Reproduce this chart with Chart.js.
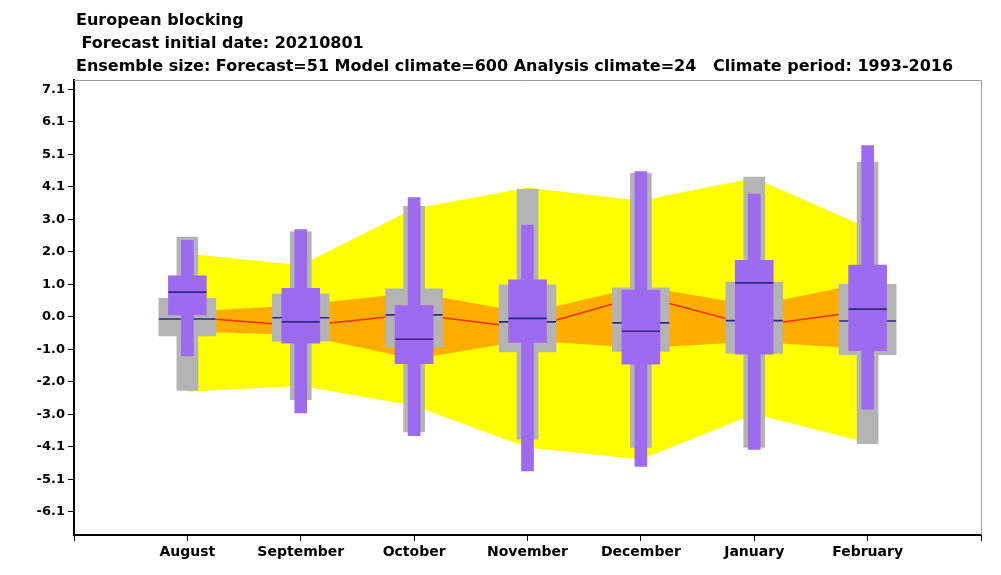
<!DOCTYPE html>
<html>
<head>
<meta charset="utf-8">
<title>European blocking</title>
<script src="https://cdn.jsdelivr.net/npm/chart.js@4.4.0/dist/chart.umd.min.js"></script>
<style>
  html, body { margin: 0; padding: 0; background: #fff; }
  canvas { display: block; }
</style>
</head>
<body>
<canvas id="blockingChart" width="1001" height="575"></canvas>
<script>
const titleLines = [
  'European blocking',
  ' Forecast initial date: 20210801',
  'Ensemble size: Forecast=51 Model climate=600 Analysis climate=24   Climate period: 1993-2016'
];

const months = ['August', 'September', 'October', 'November', 'December', 'January', 'February'];

// Forecast (purple boxes)
const fcMin    = [-1.22, -3.00, -3.71, -4.81, -4.67, -4.14, -2.88];
const fcQ1     = [ 0.06, -0.82, -1.46, -0.80, -1.48, -1.17, -1.06];
const fcMedian = [ 0.77, -0.16, -0.70, -0.05, -0.45,  1.06,  0.24];
const fcQ3     = [ 1.28,  0.89,  0.35,  1.15,  0.83,  1.76,  1.61];
const fcMax    = [ 2.39,  2.72,  3.72,  2.86,  4.53,  3.83,  5.34];

// Model climate (grey boxes)
const mcMin    = [-2.30, -2.59, -3.59, -3.82, -4.08, -4.08, -3.96];
const mcQ1     = [-0.60, -0.76, -0.94, -1.10, -1.08, -1.14, -1.18];
const mcMedian = [-0.07, -0.03,  0.06, -0.16, -0.19, -0.12, -0.13];
const mcQ3     = [ 0.58,  0.71,  0.87,  1.00,  0.90,  1.08,  1.01];
const mcMax    = [ 2.49,  2.65,  3.45,  3.98,  4.48,  4.36,  4.82];

// Analysis climate (yellow / orange bands, red median)
const anMin    = [-2.34, -2.15, -2.78, -4.08, -4.45, -3.03, -3.93];
const anQ1     = [-0.46, -0.57, -1.32, -0.73, -0.98, -0.77, -1.02];
const anMedian = [-0.01, -0.29,  0.08, -0.36,  0.65, -0.29,  0.20];
const anQ3     = [ 0.16,  0.37,  0.76,  0.12,  0.95,  0.35,  1.08];
const anMax    = [ 1.97,  1.61,  3.38,  4.03,  3.62,  4.33,  2.78];

// y axis ticks are steps of 7.1/7
const yTickStep = 7.1 / 7;
const yTickIndex = [-6, -5, -4, -3, -2, -1, 0, 1, 2, 3, 4, 5, 6, 7];
const yMin = -6.81;
const yMax = 7.39;

// empty slot at each end so the months sit on the inner ticks
const labels = ['', ...months, ''];
const pad = arr => [null, ...arr, null];
const span = (lo, hi) => pad(lo.map((v, i) => [v, hi[i]]));

const YELLOW = '#ffff00';
const ORANGE = '#ffad00';
const RED = '#ff2a00';
const GREY = '#b4b4b4';
const PURPLE = '#9e6af0';
const NAVY = '#2f2a85';

function band(data, fill, color, order) {
  return {
    type: 'line', data: pad(data), fill: fill, backgroundColor: color,
    borderColor: 'transparent', borderWidth: 0, pointRadius: 0, order: order
  };
}

function box(lo, hi, color, thickness, order) {
  return {
    type: 'bar', data: span(lo, hi), backgroundColor: color, borderWidth: 0,
    barThickness: thickness, grouped: false, order: order
  };
}

function medianMarks(data, halfWidth, order) {
  return {
    type: 'line', data: pad(data), showLine: false, pointStyle: 'line',
    pointRadius: halfWidth, pointHoverRadius: halfWidth, pointBorderWidth: 1.6,
    pointBorderColor: NAVY, borderColor: NAVY, fill: false, order: order
  };
}

// Title lines and the thin grey top/right frame
const framePlugin = {
  id: 'frameAndTitle',
  afterDraw(chart) {
    const ctx = chart.ctx;
    const a = chart.chartArea;
    ctx.save();
    ctx.strokeStyle = '#9a9a9a';
    ctx.lineWidth = 1;
    ctx.beginPath();
    ctx.moveTo(a.left, a.top + 0.5);
    ctx.lineTo(a.right + 0.5, a.top + 0.5);
    ctx.lineTo(a.right + 0.5, a.bottom);
    ctx.stroke();
    ctx.fillStyle = '#000';
    ctx.font = 'bold 16px "DejaVu Sans"';
    ctx.textBaseline = 'middle';
    titleLines.forEach((t, i) => ctx.fillText(t, 76, 21 + i * 23));
    ctx.restore();
  }
};

const tickFont = size => ({ family: 'DejaVu Sans', size: size, weight: 'bold' });

new Chart(document.getElementById('blockingChart'), {
  type: 'bar',
  data: {
    labels: labels,
    datasets: [
      band(anMax, '+1', YELLOW, 9),
      band(anMin, false, YELLOW, 9),
      band(anQ3, '+1', ORANGE, 8),
      band(anQ1, false, ORANGE, 8),
      {
        type: 'line', data: pad(anMedian), borderColor: RED, borderWidth: 1.5,
        pointRadius: 0, fill: false, order: 7
      },
      box(mcMin, mcMax, GREY, 21, 6),
      box(mcQ1, mcQ3, GREY, 57, 5),
      medianMarks(mcMedian, 28.5, 4),
      box(fcMin, fcMax, PURPLE, 12, 3),
      box(fcQ1, fcQ3, PURPLE, 38, 2),
      medianMarks(fcMedian, 19, 1)
    ]
  },
  options: {
    responsive: false,
    animation: false,
    layout: { autoPadding: false, padding: { top: 80, right: 20, left: 0, bottom: 0 } },
    plugins: {
      legend: { display: false },
      tooltip: { enabled: false },
      title: { display: false }
    },
    scales: {
      x: {
        type: 'category',
        offset: false,
        grid: { offset: false, drawOnChartArea: false, drawTicks: true, tickLength: 6, color: '#000' },
        border: { display: true, color: '#000', width: 2 },
        ticks: { autoSkip: false, maxRotation: 0, color: '#000', font: tickFont(14), padding: 3 },
        afterFit(scale) { scale.height = 40; }
      },
      y: {
        min: yMin,
        max: yMax,
        afterBuildTicks(scale) {
          scale.ticks = yTickIndex.map(k => ({ value: k * yTickStep }));
        },
        grid: { drawOnChartArea: false, drawTicks: true, tickLength: 6, color: '#000' },
        border: { display: true, color: '#000', width: 2 },
        ticks: {
          color: '#000', font: tickFont(13), padding: 3,
          callback: v => (Math.abs(v) < 1e-9 ? 0 : v).toFixed(1)
        },
        afterFit(scale) { scale.width = 74; }
      }
    }
  },
  plugins: [framePlugin]
});
</script>
</body>
</html>
